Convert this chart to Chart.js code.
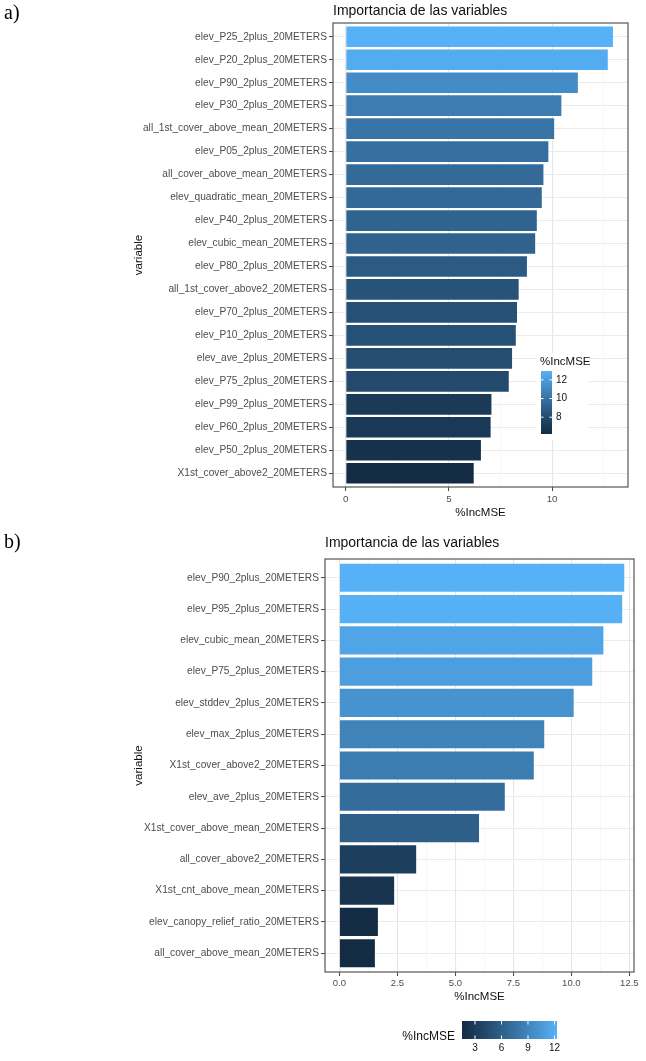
<!DOCTYPE html>
<html>
<head>
<meta charset="utf-8">
<title>Importancia de las variables</title>
<script src="https://cdn.jsdelivr.net/npm/chart.js@4.4.1/dist/chart.umd.min.js"></script>
<style>
  body { margin: 0; background: #fff; }
  #wrap { position: relative; width: 646px; height: 1061px; }
  canvas { position: absolute; left: 0; }
  #chartA { top: 0; }
  #chartB { top: 520px; }
</style>
</head>
<body>
<div id="wrap">
  <canvas id="chartA" width="646" height="520" style="width:646px;height:520px"></canvas>
  <canvas id="chartB" width="646" height="541" style="width:646px;height:541px"></canvas>
</div>
<script>
// panel a) data
const namesA = [
    "elev_P25_2plus_20METERS", "elev_P20_2plus_20METERS", "elev_P90_2plus_20METERS",
    "elev_P30_2plus_20METERS", "all_1st_cover_above_mean_20METERS", "elev_P05_2plus_20METERS",
    "all_cover_above_mean_20METERS", "elev_quadratic_mean_20METERS", "elev_P40_2plus_20METERS",
    "elev_cubic_mean_20METERS", "elev_P80_2plus_20METERS", "all_1st_cover_above2_20METERS",
    "elev_P70_2plus_20METERS", "elev_P10_2plus_20METERS", "elev_ave_2plus_20METERS",
    "elev_P75_2plus_20METERS", "elev_P99_2plus_20METERS", "elev_P60_2plus_20METERS",
    "elev_P50_2plus_20METERS", "X1st_cover_above2_20METERS"
];
const valuesA = [12.95, 12.7, 11.25, 10.45, 10.1, 9.82, 9.58, 9.5, 9.26, 9.18,
                 8.78, 8.38, 8.3, 8.24, 8.06, 7.9, 7.06, 7.02, 6.55, 6.2];
const majorTicksA = [0, 5, 10];
const minorTicksA = [2.5, 7.5, 12.5];
const legendTicksA = [8, 10, 12];

// panel b) data
const namesB = [
    "elev_P90_2plus_20METERS", "elev_P95_2plus_20METERS", "elev_cubic_mean_20METERS",
    "elev_P75_2plus_20METERS", "elev_stddev_2plus_20METERS", "elev_max_2plus_20METERS",
    "X1st_cover_above2_20METERS", "elev_ave_2plus_20METERS", "X1st_cover_above_mean_20METERS",
    "all_cover_above2_20METERS", "X1st_cnt_above_mean_20METERS", "elev_canopy_relief_ratio_20METERS",
    "all_cover_above_mean_20METERS"
];
const valuesB = [12.28, 12.19, 11.38, 10.9, 10.1, 8.83, 8.38, 7.13, 6.02, 3.31, 2.36, 1.66, 1.53];
const majorTicksB = [0, 2.5, 5, 7.5, 10, 12.5];
const minorTicksB = [1.25, 3.75, 6.25, 8.75, 11.25];
const legendTicksB = [3, 6, 9, 12];

const FONT = '"Liberation Sans", Arial, sans-serif';
const LOW = "#132B43";
const HIGH = "#56B1F7";

// ggplot-like gradient, interpolated in Lab
function hexToRgb(h) {
    return [1, 3, 5].map(i => parseInt(h.substr(i, 2), 16));
}
function rgbToLab(rgb) {
    const lin = rgb.map(c => {
        c /= 255;
        return c <= 0.04045 ? c / 12.92 : Math.pow((c + 0.055) / 1.055, 2.4);
    });
    const X = (0.4124 * lin[0] + 0.3576 * lin[1] + 0.1805 * lin[2]) / 0.95047;
    const Y = 0.2126 * lin[0] + 0.7152 * lin[1] + 0.0722 * lin[2];
    const Z = (0.0193 * lin[0] + 0.1192 * lin[1] + 0.9505 * lin[2]) / 1.08883;
    const f = t => t > 0.008856 ? Math.cbrt(t) : 7.787 * t + 16 / 116;
    return [116 * f(Y) - 16, 500 * (f(X) - f(Y)), 200 * (f(Y) - f(Z))];
}
function labToRgb(lab) {
    const fy = (lab[0] + 16) / 116, fx = fy + lab[1] / 500, fz = fy - lab[2] / 200;
    const inv = t => t * t * t > 0.008856 ? t * t * t : (t - 16 / 116) / 7.787;
    const X = inv(fx) * 0.95047, Y = inv(fy), Z = inv(fz) * 1.08883;
    const lin = [
        3.2406 * X - 1.5372 * Y - 0.4986 * Z,
        -0.9689 * X + 1.8758 * Y + 0.0415 * Z,
        0.0557 * X - 0.2040 * Y + 1.0570 * Z
    ];
    return lin.map(c => {
        c = c <= 0.0031308 ? 12.92 * c : 1.055 * Math.pow(c, 1 / 2.4) - 0.055;
        return Math.round(Math.min(1, Math.max(0, c)) * 255);
    });
}
const labLow = rgbToLab(hexToRgb(LOW));
const labHigh = rgbToLab(hexToRgb(HIGH));
function gradientColor(t) {
    const lab = labLow.map((v, i) => v + (labHigh[i] - v) * t);
    const rgb = labToRgb(lab);
    return `rgb(${rgb[0]},${rgb[1]},${rgb[2]})`;
}

function makeChart(canvas, cfg) {
    const lo = Math.min(...cfg.values);
    const hi = Math.max(...cfg.values);
    const colors = cfg.values.map(v => gradientColor((v - lo) / (hi - lo)));
    const xTicks = cfg.major.concat(cfg.minor).sort((a, b) => a - b);

    const extras = {
        id: "extras",
        afterDraw(chart) {
            const ctx = chart.ctx;
            const area = chart.chartArea;
            ctx.save();

            // panel border
            ctx.strokeStyle = "#555";
            ctx.lineWidth = 1.2;
            ctx.strokeRect(area.left, area.top, area.right - area.left, area.bottom - area.top);

            // figure tag a) / b)
            ctx.fillStyle = "#000";
            ctx.font = '20px "Liberation Serif", "Times New Roman", serif';
            ctx.textAlign = "left";
            ctx.textBaseline = "alphabetic";
            ctx.fillText(cfg.tag, 4, cfg.tagY);

            // title
            ctx.fillStyle = "#111";
            ctx.font = "14px " + FONT;
            ctx.fillText("Importancia de las variables", area.left, cfg.titleY);

            // x title
            ctx.font = "11.5px " + FONT;
            ctx.textAlign = "center";
            ctx.textBaseline = "middle";
            ctx.fillText("%IncMSE", (area.left + area.right) / 2, cfg.xTitleY);

            // y title
            ctx.save();
            ctx.translate(139, (area.top + area.bottom) / 2);
            ctx.rotate(-Math.PI / 2);
            ctx.fillText("variable", 0, 0);
            ctx.restore();

            drawLegend(ctx, cfg.legend, lo, hi);
            ctx.restore();
        }
    };

    return new Chart(canvas.getContext("2d"), {
        type: "bar",
        data: {
            datasets: [{
                data: cfg.values.map((v, i) => ({ x: v, y: i })),
                backgroundColor: colors,
                borderWidth: 0,
                barPercentage: 0.9,
                categoryPercentage: 1.0
            }]
        },
        options: {
            indexAxis: "y",
            responsive: false,
            animation: false,
            layout: { padding: cfg.padding },
            plugins: {
                legend: { display: false },
                tooltip: { enabled: false },
                title: { display: false }
            },
            scales: {
                x: {
                    type: "linear",
                    min: cfg.xMin,
                    max: cfg.xMax,
                    offset: false,
                    afterBuildTicks: scale => { scale.ticks = xTicks.map(v => ({ value: v })); },
                    afterFit: scale => { scale.height = cfg.xHeight; },
                    border: { display: false },
                    grid: {
                        offset: false,
                        color: c => cfg.major.includes(c.tick.value) ? "#e6e6e6" : "#f3f3f3",
                        lineWidth: c => cfg.major.includes(c.tick.value) ? 1.1 : 0.7,
                        tickColor: c => cfg.major.includes(c.tick.value) ? "#444" : "rgba(0,0,0,0)",
                        tickLength: 4,
                        tickWidth: 1
                    },
                    ticks: {
                        autoSkip: false,
                        maxRotation: 0,
                        padding: 2,
                        color: "#4d4d4d",
                        font: { family: FONT, size: cfg.xFontSize },
                        callback: v => cfg.major.includes(v) ? cfg.fmt(v) : ""
                    }
                },
                y: {
                    type: "linear",
                    reverse: true,
                    offset: false,
                    min: -0.6,
                    max: cfg.values.length - 0.4,
                    afterBuildTicks: scale => { scale.ticks = cfg.names.map((n, i) => ({ value: i })); },
                    afterFit: scale => { scale.width = cfg.yWidth; },
                    border: { display: false },
                    grid: {
                        offset: false,
                        color: "#ebebeb",
                        lineWidth: 1.1,
                        tickColor: "#444",
                        tickLength: 4,
                        tickWidth: 1
                    },
                    ticks: {
                        autoSkip: false,
                        padding: 2,
                        color: "#4d4d4d",
                        font: { family: FONT, size: 10.2 },
                        callback: v => cfg.names[v]
                    }
                }
            }
        },
        plugins: [extras]
    });
}

function barGradient(ctx, x0, y0, x1, y1) {
    const g = ctx.createLinearGradient(x0, y0, x1, y1);
    for (let i = 0; i <= 20; i++) {
        g.addColorStop(i / 20, gradientColor(i / 20));
    }
    return g;
}

function drawLegend(ctx, lg, lo, hi) {
    ctx.font = "11.5px " + FONT;
    if (lg.vertical) {
        ctx.fillStyle = "#fff";
        ctx.fillRect(lg.x - 5, lg.y - 18, 52, lg.h + 24);
        ctx.fillStyle = barGradient(ctx, 0, lg.y + lg.h, 0, lg.y);
        ctx.fillRect(lg.x, lg.y, lg.w, lg.h);
        ctx.fillStyle = "#111";
        ctx.textAlign = "left";
        ctx.textBaseline = "middle";
        ctx.fillText("%IncMSE", lg.x - 1, lg.y - 9);
        ctx.font = "10px " + FONT;
        lg.ticks.forEach(t => {
            const y = lg.y + lg.h - (t - lo) / (hi - lo) * lg.h;
            ctx.strokeStyle = "#fff";
            ctx.lineWidth = 1;
            ctx.beginPath();
            ctx.moveTo(lg.x, y); ctx.lineTo(lg.x + 2.5, y);
            ctx.moveTo(lg.x + lg.w - 2.5, y); ctx.lineTo(lg.x + lg.w, y);
            ctx.stroke();
            ctx.fillStyle = "#111";
            ctx.fillText(String(t), lg.x + lg.w + 4, y);
        });
    } else {
        ctx.fillStyle = barGradient(ctx, lg.x, 0, lg.x + lg.w, 0);
        ctx.fillRect(lg.x, lg.y, lg.w, lg.h);
        ctx.fillStyle = "#111";
        ctx.font = "12px " + FONT;
        ctx.textAlign = "right";
        ctx.textBaseline = "middle";
        ctx.fillText("%IncMSE", lg.x - 7, lg.y + lg.h - 2);
        ctx.font = "10px " + FONT;
        ctx.textAlign = "center";
        lg.ticks.forEach(t => {
            const x = lg.x + (t - lo) / (hi - lo) * lg.w;
            ctx.strokeStyle = "#fff";
            ctx.lineWidth = 1;
            ctx.beginPath();
            ctx.moveTo(x, lg.y); ctx.lineTo(x, lg.y + 3.5);
            ctx.moveTo(x, lg.y + lg.h - 3.5); ctx.lineTo(x, lg.y + lg.h);
            ctx.stroke();
            ctx.fillStyle = "#111";
            ctx.fillText(String(t), x, lg.y + lg.h + 9.5);
        });
    }
}

document.addEventListener("DOMContentLoaded", () => {
    makeChart(document.getElementById("chartA"), {
        names: namesA,
        values: valuesA,
        major: majorTicksA,
        minor: minorTicksA,
        fmt: v => String(v),
        xMin: -0.62,
        xMax: 13.68,
        xFontSize: 9.8,
        padding: { top: 23, right: 18, bottom: 0, left: 0 },
        yWidth: 333,
        xHeight: 33,
        tag: "a)",
        tagY: 19,
        titleY: 15,
        xTitleY: 512.5,
        legend: { vertical: true, x: 541, y: 371, w: 11, h: 63, ticks: legendTicksA }
    });

    makeChart(document.getElementById("chartB"), {
        names: namesB,
        values: valuesB,
        major: majorTicksB,
        minor: minorTicksB,
        fmt: v => v.toFixed(1),
        xMin: -0.62,
        xMax: 12.7,
        xFontSize: 9.5,
        padding: { top: 39, right: 12, bottom: 0, left: 0 },
        yWidth: 325,
        xHeight: 541 - 39 - 413,
        tag: "b)",
        tagY: 28,
        titleY: 27,
        xTitleY: 476.5,
        legend: { vertical: false, x: 462, y: 501, w: 95, h: 18, ticks: legendTicksB }
    });
});
</script>
</body>
</html>
